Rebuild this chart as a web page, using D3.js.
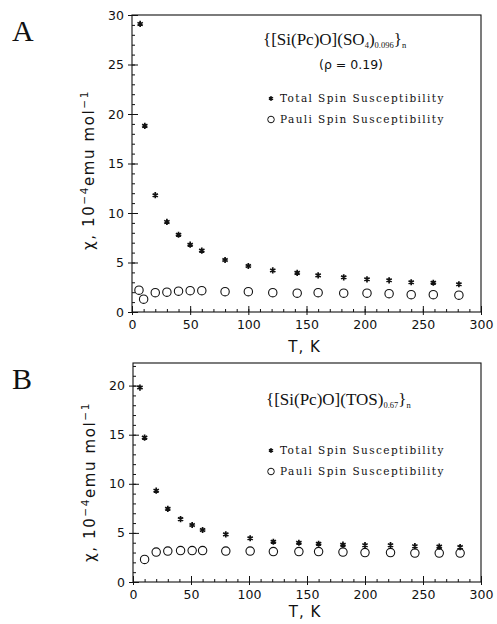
<!DOCTYPE html>
<html>
<head>
<meta charset="utf-8">
<script src="https://cdn.jsdelivr.net/npm/d3@7"></script>
<style>
  html, body { margin: 0; padding: 0; background: #fff; }
  svg { display: block; }
  .tick text { font-family: "DejaVu Sans", sans-serif; font-size: 12.5px; fill: #111; }
  .axis path { display: none; }
  .axis line { stroke: #111; stroke-width: 1; }
</style>
</head>
<body>
<div id="chart"></div>
<script>
/* chi vs T, two panels (A: SO4 doped, B: TOS doped) */

// panel A
const tA_total = [7, 11, 20, 30, 40, 50, 60, 80, 100, 121, 142, 160, 182, 202, 221, 240, 259, 281];
const chiA_total = [29.1, 18.8, 11.8, 9.1, 7.8, 6.8, 6.2, 5.25, 4.65, 4.2, 3.95, 3.7, 3.5, 3.3, 3.2, 3.0, 2.95, 2.8];
const tA_pauli = [6, 10, 20, 30, 40, 50, 60, 80, 100, 121, 142, 160, 182, 202, 221, 240, 259, 281];
const chiA_pauli = [2.2, 1.3, 1.95, 2.0, 2.1, 2.15, 2.15, 2.05, 2.05, 1.95, 1.9, 1.95, 1.9, 1.9, 1.85, 1.75, 1.75, 1.7];

// panel B
const tB_total = [6, 10, 20, 30, 41, 51, 60, 80, 101, 121, 143, 160, 181, 200, 222, 243, 264, 282];
const chiB_total = [19.8, 14.7, 9.3, 7.45, 6.4, 5.8, 5.3, 4.85, 4.45, 4.1, 4.0, 3.9, 3.8, 3.75, 3.75, 3.65, 3.6, 3.55];
const tB_pauli = [10, 20, 30, 41, 51, 60, 80, 101, 121, 143, 160, 181, 200, 222, 243, 264, 282];
const chiB_pauli = [2.3, 3.05, 3.15, 3.2, 3.2, 3.2, 3.15, 3.15, 3.1, 3.1, 3.1, 3.05, 3.0, 3.0, 2.95, 2.95, 2.95];

const xTicks = [0, 50, 100, 150, 200, 250, 300];
const yTicksA = [0, 5, 10, 15, 20, 25, 30];
const yTicksB = [0, 5, 10, 15, 20];
const legendLabels = ["Total Spin Susceptibility", "Pauli Spin Susceptibility"];

const W = 497, H = 624;
const svg = d3.select("#chart").append("svg").attr("width", W).attr("height", H);

function drawPanel(cfg) {
  const x = d3.scaleLinear().domain([0, 300]).range([cfg.l, cfg.r]);
  const y = d3.scaleLinear().domain([0, cfg.yMax]).range([cfg.b, cfg.t]);
  const g = svg.append("g");

  // frame
  g.append("rect").attr("x", cfg.l).attr("y", cfg.t)
    .attr("width", cfg.r - cfg.l).attr("height", cfg.b - cfg.t)
    .attr("fill", "none").attr("stroke", "#111").attr("stroke-width", 1.1);

  // minor ticks (inside)
  const xMinor = d3.range(0, 301, 10);
  const yMinor = d3.range(0, Math.floor(cfg.yMax) + 1, 1);
  g.append("g").attr("class", "axis").attr("transform", `translate(0,${cfg.b})`)
    .call(d3.axisBottom(x).tickValues(xMinor).tickSize(-3).tickSizeOuter(0).tickFormat(""));
  g.append("g").attr("class", "axis").attr("transform", `translate(${cfg.l},0)`)
    .call(d3.axisLeft(y).tickValues(yMinor).tickSize(-3).tickSizeOuter(0).tickFormat(""));
  // major ticks, across the axis line
  g.append("g").attr("class", "axis").attr("transform", `translate(0,${cfg.b})`)
    .call(d3.axisBottom(x).tickValues(xTicks).tickSize(-6).tickSizeOuter(0).tickFormat(""));
  g.append("g").attr("class", "axis").attr("transform", `translate(0,${cfg.b})`)
    .call(d3.axisBottom(x).tickValues(xTicks).tickSize(3).tickSizeOuter(0).tickPadding(5));
  g.append("g").attr("class", "axis").attr("transform", `translate(${cfg.l},0)`)
    .call(d3.axisLeft(y).tickValues(cfg.yTicks).tickSize(-6).tickSizeOuter(0).tickFormat(""));
  g.append("g").attr("class", "axis").attr("transform", `translate(${cfg.l},0)`)
    .call(d3.axisLeft(y).tickValues(cfg.yTicks).tickSize(4).tickSizeOuter(0).tickPadding(4));

  // axis titles
  g.append("text").attr("x", (cfg.l + cfg.r) / 2 - 2).attr("y", cfg.b + cfg.xTitleDy)
    .attr("text-anchor", "middle").attr("font-family", "DejaVu Sans, sans-serif")
    .attr("font-size", 15).attr("letter-spacing", 1).attr("fill", "#111")
    .text("T,  K");
  const yt = g.append("text")
    .attr("transform", `translate(${cfg.l - 38},${cfg.yTitleY}) rotate(-90)`)
    .attr("text-anchor", "middle").attr("font-family", "DejaVu Sans, sans-serif")
    .attr("font-size", 15).attr("letter-spacing", 1.6).attr("fill", "#111");
  yt.append("tspan").text("χ,  10");
  yt.append("tspan").attr("font-size", 10.5).attr("dy", -6).text("−4");
  yt.append("tspan").attr("dy", 6).text("emu  mol");
  yt.append("tspan").attr("font-size", 10.5).attr("dy", -6).text("−1");

  // panel letter
  g.append("text").attr("x", 12).attr("y", cfg.t + 26)
    .attr("font-family", "Liberation Serif, serif").attr("font-size", 30).attr("fill", "#111")
    .text(cfg.letter);

  // data
  const star = d3.symbol().type(d3.symbolAsterisk).size(26);
  g.append("g").selectAll("path").data(cfg.tTot).join("path")
    .attr("transform", (d, i) => `translate(${x(d)},${y(cfg.chiTot[i])})`)
    .attr("d", star).attr("fill", "none").attr("stroke", "#111").attr("stroke-width", 1.7);
  g.append("g").selectAll("circle").data(cfg.tPau).join("circle")
    .attr("cx", d => x(d)).attr("cy", (d, i) => y(cfg.chiPau[i])).attr("r", 4.2)
    .attr("fill", "none").attr("stroke", "#111").attr("stroke-width", 1.1);

  // formula
  const f = g.append("text").attr("x", cfg.fx).attr("y", cfg.fy)
    .attr("font-family", "Liberation Serif, serif").attr("font-size", 17).attr("fill", "#111");
  cfg.formula.forEach(p => {
    if (p.sub) f.append("tspan").attr("font-size", 8.5).attr("dy", 3).text(p.sub);
    else f.append("tspan").attr("dy", p.after ? -3 : 0).text(p.t);
  });
  if (cfg.rho) {
    g.append("text").attr("x", 351).attr("y", cfg.fy + 24).attr("text-anchor", "middle")
      .attr("font-family", "DejaVu Sans, sans-serif").attr("font-size", 12.5)
      .attr("fill", "#111").text(cfg.rho);
  }

  // legend
  legendLabels.forEach((lab, i) => {
    const ly = cfg.legY + i * 21;
    if (i === 0) {
      g.append("path").attr("transform", `translate(271,${ly - 3.5})`)
        .attr("d", d3.symbol().type(d3.symbolAsterisk).size(16))
        .attr("fill", "none").attr("stroke", "#111").attr("stroke-width", 1.4);
    } else {
      g.append("circle").attr("cx", 271).attr("cy", ly - 3.5).attr("r", 3.3)
        .attr("fill", "none").attr("stroke", "#111").attr("stroke-width", 1);
    }
    g.append("text").attr("x", 280).attr("y", ly)
      .attr("font-family", "DejaVu Serif, serif").attr("font-size", 10.5)
      .attr("letter-spacing", 1.4).attr("fill", "#111").text(lab);
  });
}

drawPanel({
  letter: "A", l: 132, r: 481, t: 15, b: 312, yMax: 30, yTicks: yTicksA, yTitleY: 170, xTitleDy: 40,
  tTot: tA_total, chiTot: chiA_total, tPau: tA_pauli, chiPau: chiA_pauli,
  fx: 263, fy: 45,
  formula: [{ t: "{[Si(Pc)O](SO" }, { sub: "4" }, { t: ")", after: 1 }, { sub: "0.096" }, { t: "}", after: 1 }, { sub: "n" }],
  rho: "(ρ = 0.19)", legY: 102
});
drawPanel({
  letter: "B", l: 133, r: 481, t: 363, b: 582, yMax: 22.3, yTicks: yTicksB, yTitleY: 482, xTitleDy: 35,
  tTot: tB_total, chiTot: chiB_total, tPau: tB_pauli, chiPau: chiB_pauli,
  fx: 266, fy: 405,
  formula: [{ t: "{[Si(Pc)O](TOS)" }, { sub: "0.67" }, { t: "}", after: 1 }, { sub: "n" }],
  rho: null, legY: 454
});
</script>
</body>
</html>
